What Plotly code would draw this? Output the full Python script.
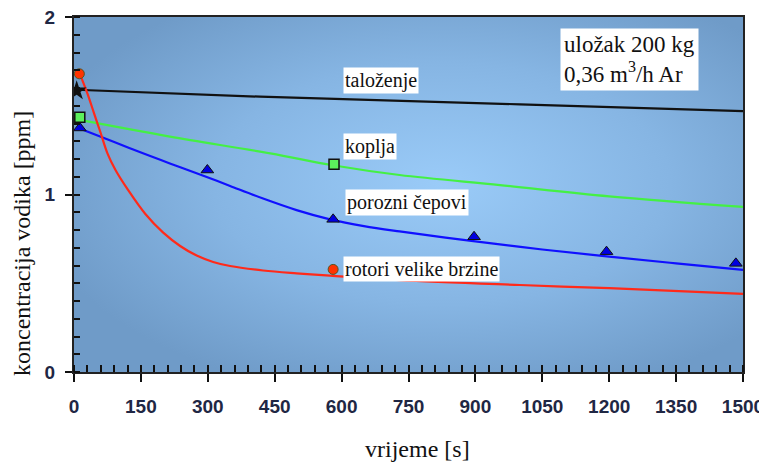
import base64
import plotly.graph_objects as go

# ---- data ----
# smooth curves
t_taloz = [5, 417, 1000, 1500]
c_taloz = [1.59, 1.551, 1.508, 1.47]

t_koplja = [13, 215, 440, 580, 730, 955, 1200, 1500]
c_koplja = [1.42, 1.326, 1.232, 1.165, 1.11, 1.053, 0.99, 0.93]

t_cep = [11, 70, 140, 215, 290, 350, 424, 499, 574, 650, 730, 900, 1050, 1200, 1350, 1500]
c_cep = [1.373, 1.316, 1.246, 1.175, 1.106, 1.048, 0.977, 0.912, 0.86, 0.822, 0.792, 0.736, 0.69, 0.65, 0.612, 0.575]

t_rot = [13, 30, 45, 60, 75, 93, 120, 160, 200, 238, 275, 312, 350, 424, 499, 574, 730, 1000, 1200, 1500]
c_rot = [1.68, 1.57, 1.457, 1.345, 1.232, 1.138, 1.03, 0.89, 0.785, 0.71, 0.656, 0.62, 0.597, 0.572, 0.556, 0.543, 0.518, 0.49, 0.472, 0.44]

# measured points (markers)
pt_taloz_t = [6]
pt_taloz_c = [1.585]
pt_koplja_t = [13, 583]
pt_koplja_c = [1.435, 1.17]
pt_cep_t = [13, 299, 581, 897, 1194, 1484]
pt_cep_c = [1.375, 1.138, 0.86, 0.762, 0.678, 0.612]
pt_rot_t = [12, 581]
pt_rot_c = [1.68, 0.578]

x_ticks = [0, 150, 300, 450, 600, 750, 900, 1050, 1200, 1350, 1500]
y_ticks = [0, 1, 2]

labels = ["taloženje", "koplja", "porozni čepovi", "rotori velike brzine"]
label_x = [603, 603, 607, 603]
label_y = [1.642, 1.268, 0.955, 0.583]

info_text = "uložak 200 kg<br>0,36 m<sup>3</sup>/h Ar"

# ---- background gradient as svg ----
svg = ('<svg xmlns="http://www.w3.org/2000/svg" width="100" height="100" viewBox="0 0 100 100" '
       'preserveAspectRatio="none"><defs><radialGradient id="g" cx="0.55" cy="0.47" r="0.62">'
       '<stop offset="0" stop-color="#9acbf8"/><stop offset="0.55" stop-color="#86b5e3"/>'
       '<stop offset="1" stop-color="#6f9bc8"/></radialGradient></defs>'
       '<rect width="100" height="100" fill="url(#g)"/></svg>')
svg_uri = "data:image/svg+xml;base64," + base64.b64encode(svg.encode()).decode()

fig = go.Figure()

lw = 2.2
fig.add_trace(go.Scatter(x=t_taloz, y=c_taloz, mode="lines", line=dict(color="#111111", width=lw)))
fig.add_trace(go.Scatter(x=t_koplja, y=c_koplja, mode="lines",
                         line=dict(color="#44f044", width=lw, shape="spline", smoothing=1)))
fig.add_trace(go.Scatter(x=t_cep, y=c_cep, mode="lines",
                         line=dict(color="#1010ff", width=lw, shape="spline", smoothing=1)))
fig.add_trace(go.Scatter(x=t_rot, y=c_rot, mode="lines",
                         line=dict(color="#ff2a1a", width=lw, shape="spline", smoothing=1)))

fig.add_trace(go.Scatter(x=pt_taloz_t, y=pt_taloz_c, mode="markers",
                         marker=dict(symbol="star", size=15, color="#111111")))
fig.add_trace(go.Scatter(x=pt_koplja_t, y=pt_koplja_c, mode="markers",
                         marker=dict(symbol="square", size=10, color="#5cf05c",
                                     line=dict(color="#111", width=1.5))))
fig.add_trace(go.Scatter(x=pt_cep_t, y=pt_cep_c, mode="markers",
                         marker=dict(symbol="triangle-up", size=11, color="#0000e0",
                                     line=dict(color="#111", width=1))))
fig.add_trace(go.Scatter(x=pt_rot_t, y=pt_rot_c, mode="markers",
                         marker=dict(symbol="circle", size=10, color="#ff3300",
                                     line=dict(color="#552", width=1))))

annotations = []
for txt, lx, ly in zip(labels, label_x, label_y):
    annotations.append(dict(x=lx, y=ly, xref="x", yref="y", text=txt, showarrow=False,
                            xanchor="left", yanchor="middle", bgcolor="white", borderpad=1,
                            font=dict(family="Liberation Serif", size=20, color="#111")))
annotations.append(dict(x=1090, y=1.758, xref="x", yref="y", text=info_text, showarrow=False,
                        xanchor="left", yanchor="middle", align="left", bgcolor="white", borderpad=3,
                        font=dict(family="Liberation Serif", size=23, color="#111")))
annotations.append(dict(x=-0.078, y=0.363, xref="paper", yref="paper", text="koncentracija vodika [ppm]",
                        textangle=-90, showarrow=False, xanchor="center", yanchor="middle",
                        font=dict(family="Liberation Serif", size=24, color="#111")))
annotations.append(dict(x=0.514, y=-0.218, xref="paper", yref="paper", text="vrijeme [s]",
                        showarrow=False, xanchor="center", yanchor="middle",
                        font=dict(family="Liberation Serif", size=24, color="#111")))

# page body has an 8px margin, so the figure is drawn 8px smaller and shifted
fig.update_layout(
    width=759, height=456,
    margin=dict(l=66, r=24, t=9, b=92, autoexpand=False),
    paper_bgcolor="white",
    plot_bgcolor="#84b2e0",
    showlegend=False,
    annotations=annotations,
    images=[dict(source=svg_uri, xref="paper", yref="paper", x=0, y=1, sizex=1, sizey=1,
                 sizing="stretch", layer="below", xanchor="left", yanchor="top")],
)

tickfont = dict(family="Liberation Sans", size=19, color="#1f2744", weight="bold")
fig.update_xaxes(range=[0, 1500], tickvals=x_ticks, ticktext=[str(v) for v in x_ticks],
                 showgrid=False, zeroline=False, automargin=False, ticklabeloverflow="allow",
                 showline=True, linecolor="#222", linewidth=2, mirror=True,
                 ticks="outside", ticklen=8, tickwidth=2, tickcolor="#111",
                 minor=dict(dtick=30, tick0=0, ticks="inside", ticklen=7, tickwidth=1.5, tickcolor="#111"),
                 tickfont=tickfont, ticklabelstandoff=8)
fig.update_yaxes(range=[0, 2], tickvals=y_ticks, ticktext=[str(v) for v in y_ticks],
                 showgrid=False, zeroline=False, automargin=False, ticklabeloverflow="allow",
                 showline=True, linecolor="#222", linewidth=2, mirror=True,
                 ticks="outside", ticklen=7, tickwidth=2, tickcolor="#111",
                 minor=dict(dtick=0.1, tick0=0, ticks="inside", ticklen=6, tickwidth=1.5, tickcolor="#111"),
                 tickfont=tickfont, ticklabelstandoff=6)

fig.write_html("out.html")
